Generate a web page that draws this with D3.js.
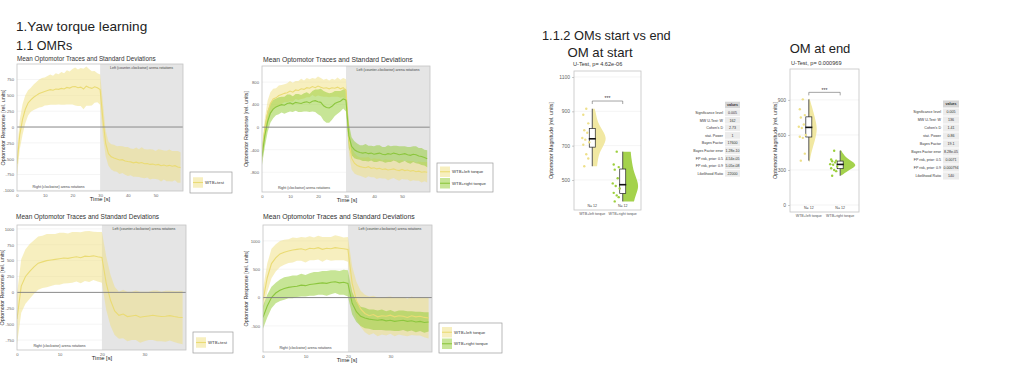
<!DOCTYPE html>
<html>
<head>
<meta charset="utf-8">
<script src="https://d3js.org/d3.v7.min.js"></script>
<style>
body{margin:0;background:#fff;}
svg{display:block;font-family:"Liberation Sans",Arial,sans-serif;}
</style>
</head>
<body>
<svg id="page" width="1024" height="370"></svg>
<script>
// ---- data: mean traces (one value per second) and standard deviations ----
var omr1Mean = [-580,-120,120,280,380,430,470,500,530,545,
    560,575,590,580,600,595,610,600,625,615,
    635,640,620,630,600,645,625,610,635,620,
    590,120,-260,-420,-470,-490,-505,-520,-515,-535,
    -545,-550,-565,-555,-570,-560,-580,-575,-590,-585,
    -600,-590,-610,-600,-615,-605,-620,-610,-630,-640];
var omr1Sd = [200,230,240,220,200,190,200,210,220,230,
    220,230,240,230,250,240,260,250,270,260,
    280,300,290,300,320,310,290,270,250,230,
    240,260,200,190,200,210,200,220,210,220,
    230,210,220,230,220,240,230,220,240,230,
    220,240,250,230,240,250,240,230,250,240];

var omr2LeftMean = [-480,-50,250,420,500,520,560,580,600,610,
    640,620,660,650,680,670,700,690,720,700,
    730,710,690,700,680,700,690,710,680,700,
    650,-200,-550,-640,-680,-700,-710,-720,-700,-730,
    -720,-740,-730,-750,-740,-760,-750,-740,-760,-770,
    -750,-770,-760,-780,-770,-790,-780,-800,-790,-800];
var omr2LeftSd = [150,200,220,200,180,170,180,170,160,170,
    180,170,160,170,180,160,170,160,150,160,
    170,160,150,160,150,160,150,170,160,170,
    200,250,200,180,170,160,170,180,170,160,
    170,180,170,160,170,180,170,160,170,180,
    170,160,170,180,170,160,170,180,170,180];
var omr2RightMean = [-520,-150,100,250,320,360,380,400,390,420,
    430,410,440,430,420,440,450,430,460,470,
    450,440,380,350,340,370,420,440,460,500,
    480,-150,-340,-400,-430,-450,-460,-450,-470,-460,
    -480,-470,-460,-480,-490,-470,-480,-460,-470,-490,
    -480,-470,-490,-500,-480,-490,-510,-520,-540,-560];
var omr2RightSd = [150,200,190,170,160,150,150,140,150,160,
    150,140,150,160,150,160,170,160,180,200,
    220,240,260,270,260,240,220,200,180,170,
    200,220,160,150,140,130,140,150,140,130,
    140,150,140,130,140,150,140,130,140,150,
    140,130,140,150,140,150,140,150,140,150];

var omr3Mean = [-420,100,250,330,400,460,480,500,510,520,
    530,540,535,550,560,545,570,565,575,560,
    550,150,-120,-290,-360,-340,-380,-370,-360,-390,
    -380,-370,-360,-370,-380,-375,-365,-380,-390,-395];
var omr3Sd = [400,420,430,430,420,420,410,420,410,400,
    410,400,390,400,390,400,390,400,380,390,
    400,420,400,380,370,380,390,380,390,400,
    390,380,390,400,390,400,390,400,410,420];

var omr4LeftMean = [-50,350,600,700,770,800,820,840,850,860,
    840,870,860,880,850,870,860,880,870,860,
    850,250,-50,-200,-280,-320,-300,-340,-320,-330,
    -310,-340,-320,-330,-350,-320,-340,-330,-350,-360];
var omr4LeftSd = [200,250,260,240,230,220,210,220,200,210,
    220,210,200,210,220,200,210,220,210,200,
    220,300,330,320,330,340,330,340,330,340,
    330,340,330,340,330,340,330,340,350,360];
var omr4RightMean = [-350,-150,0,80,130,160,180,190,200,220,
    210,230,240,250,260,250,270,280,260,270,
    250,-100,-250,-330,-360,-380,-390,-400,-390,-410,
    -400,-420,-410,-400,-420,-410,-430,-420,-440,-430];
var omr4RightSd = [200,200,190,180,190,200,190,200,190,200,
    190,200,210,200,210,220,210,200,210,220,
    230,200,180,170,180,170,180,170,180,170,
    180,170,180,170,180,170,180,170,180,170];

// tick labels
var yTicks1 = [750,500,250,0,-250,-500,-750,-1000];
var yTicks2 = [800,400,0,-400,-800];
var yTicks3 = [1000,750,500,250,0,-250,-500,-750];
var yTicks4 = [1000,500,0,-500];
var xTicks60 = [0,10,20,30,40,50];
var xTicks40 = [0,10,20,30];

// ---- data: optomotor magnitudes per fly (N = 12 each) ----
var groupNames = ["WTB+left torque","WTB+right torque"];
var startLeft = [915,880,830,790,775,745,735,720,705,650,625,580];
var startRight = [665,590,575,560,510,480,465,450,425,410,400,375];
var endLeft = [905,820,770,750,690,670,660,600,585,575,440,380];
var endRight = [465,390,380,375,365,350,345,330,315,300,290,250];

// violin outlines: [value, relative width]
var startLeftViolin = [[580,0.3],[620,0.35],[660,0.45],[700,0.7],[740,0.9],[780,0.72],[820,0.42],[860,0.28],[900,0.2],[915,0.15]];
var startRightViolin = [[375,0.7],[420,0.85],[460,1.0],[500,0.9],[540,0.72],[580,0.62],[620,0.55],[665,0.5]];
var endLeftViolin = [[370,0.05],[450,0.15],[550,0.38],[650,0.55],[750,0.38],[850,0.18],[910,0.05]];
var endRightViolin = [[255,0.1],[290,0.45],[320,0.85],[340,1.0],[370,0.8],[400,0.4],[440,0.18],[470,0.05]];

var yTicksStart = [500,700,900,1100];
var yTicksEnd = [0,300,600,900];

// ---- data: statistics tables ----
var statLabels = ["Significance level","MW U-Test: W","Cohen's D","stat. Power","Bayes Factor",
    "Bayes Factor error","FP risk, prior: 0.5","FP risk, prior: 0.9","Likelihood Ratio"];
var startStats = ["0.005","162","2.73","1","17600","1.28e-10","4.54e-05","5.05e-08","22000"];
var endStats = ["0.005","136","1.41","0.86","19.1","8.28e-05","0.0071","0.000794","140"];

var yellowFill = "#efe080", yellowLine = "#eadb74";
var greenFill = "#8fcc2e", greenLine = "#8cc63e";

var svg = d3.select("#page");

// headings
var heading = function(txt, x, y, size, anchor)
{
    svg.append("text").text(txt)
        .attr("x", x).attr("y", y)
        .attr("font-size", size)
        .attr("fill", "#222")
        .attr("text-anchor", anchor || "start");
}
heading("1.Yaw torque learning", 16, 31, 13.6);
heading("1.1 OMRs", 16, 50, 12.5);
heading("1.1.2 OMs start vs end", 542, 40, 12.8);
heading("OM at start", 600, 57, 13.2, "middle");
heading("OM at end", 820, 53, 13, "middle");

var plainFormat = function(d) { return String(d); };

//draws one panel of mean traces with SD bands
var drawTraceChart = function(cfg)
{
    var p = cfg.panel;
    var xScale = d3.scaleLinear().domain([0, cfg.xMax]).range([p.x, p.x + p.w]);
    var yScale = d3.scaleLinear().domain(cfg.yDomain).range([p.y + p.h, p.y]);
    var g = svg.append("g");

    g.append("clipPath").attr("id", "clip" + cfg.id)
        .append("rect").attr("x", p.x).attr("y", p.y).attr("width", p.w).attr("height", p.h);

    g.append("text").text("Mean Optomotor Traces and Standard Deviations")
        .attr("x", cfg.titleX).attr("y", cfg.titleY)
        .attr("font-size", cfg.titleSize).attr("fill", "#333");

    g.append("rect").attr("x", p.x).attr("y", p.y).attr("width", p.w).attr("height", p.h)
        .attr("fill", "#fff");
    g.selectAll(".grid").data(cfg.yTicks).enter().append("line")
        .attr("x1", p.x).attr("x2", p.x + p.w)
        .attr("y1", function(d) { return yScale(d); })
        .attr("y2", function(d) { return yScale(d); })
        .attr("stroke", "#efefef").attr("stroke-width", 0.6);
    g.append("rect")
        .attr("x", xScale(cfg.switchAt)).attr("y", p.y)
        .attr("width", p.x + p.w - xScale(cfg.switchAt)).attr("height", p.h)
        .attr("fill", "#e5e5e5");

    var plot = g.append("g").attr("clip-path", "url(#clip" + cfg.id + ")");
    cfg.series.forEach(function(s)
    {
        var area = d3.area()
            .x(function(d, i) { return xScale(i); })
            .y0(function(d, i) { return yScale(d - s.sd[i]); })
            .y1(function(d, i) { return yScale(d + s.sd[i]); });
        plot.append("path").datum(s.mean).attr("d", area)
            .attr("fill", s.fill).attr("fill-opacity", 0.5);
    });
    cfg.series.forEach(function(s)
    {
        var line = d3.line()
            .x(function(d, i) { return xScale(i); })
            .y(function(d) { return yScale(d); });
        plot.append("path").datum(s.mean).attr("d", line)
            .attr("fill", "none").attr("stroke", s.line).attr("stroke-width", 1.1);
    });
    g.append("line")
        .attr("x1", p.x).attr("x2", p.x + p.w)
        .attr("y1", yScale(0)).attr("y2", yScale(0))
        .attr("stroke", "#808080").attr("stroke-width", 0.9);
    g.append("rect").attr("x", p.x).attr("y", p.y).attr("width", p.w).attr("height", p.h)
        .attr("fill", "none").attr("stroke", "#c4c4c4").attr("stroke-width", 0.8);

    g.append("text").text("Left (counter-clockwise) arena rotations")
        .attr("x", (xScale(cfg.switchAt) + p.x + p.w) / 2).attr("y", p.y + 5)
        .attr("font-size", 3.6).attr("fill", "#444").attr("text-anchor", "middle");
    g.append("text").text("Right (clockwise) arena rotations")
        .attr("x", (p.x + xScale(cfg.switchAt)) / 2).attr("y", p.y + p.h - 3.5)
        .attr("font-size", 3.6).attr("fill", "#444").attr("text-anchor", "middle");

    var yAxis = d3.axisLeft(yScale).tickValues(cfg.yTicks).tickFormat(plainFormat).tickSize(0).tickPadding(3);
    var ya = g.append("g").attr("transform", "translate(" + p.x + ",0)").call(yAxis);
    var xAxis = d3.axisBottom(xScale).tickValues(cfg.xTicks).tickFormat(plainFormat).tickSize(0).tickPadding(3);
    var xa = g.append("g").attr("transform", "translate(0," + (p.y + p.h) + ")").call(xAxis);
    [ya, xa].forEach(function(a)
    {
        a.select(".domain").remove();
        a.selectAll("text").attr("font-size", 4.2).attr("fill", "#666")
            .attr("font-family", "Liberation Sans, Arial, sans-serif");
    });

    g.append("text").text("Time [s]")
        .attr("x", cfg.timeX).attr("y", p.y + p.h + 10)
        .attr("font-size", 5.8).attr("fill", "#222").attr("text-anchor", "middle");
    g.append("text").text("Optomotor Response [rel. units]")
        .attr("transform", "translate(" + cfg.yLabelX + "," + (p.y + p.h / 2) + ") rotate(-90)")
        .attr("font-size", 5.4).attr("fill", "#333").attr("text-anchor", "middle");

    // legend
    var L = cfg.legend;
    var lg = g.append("g");
    lg.append("rect").attr("x", L.x).attr("y", L.y).attr("width", L.w).attr("height", L.h)
        .attr("fill", "#fff").attr("stroke", "#9a9a9a").attr("stroke-width", 0.7);
    var n = cfg.series.length;
    var top = L.y + (L.h - n * 11.5) / 2;
    cfg.series.forEach(function(s, i)
    {
        var ky = top + i * 11.5;
        lg.append("rect").attr("x", L.x + 3).attr("y", ky + 0.5).attr("width", 10).attr("height", 10.5)
            .attr("fill", s.fill).attr("fill-opacity", 0.5);
        lg.append("line").attr("x1", L.x + 3).attr("x2", L.x + 13)
            .attr("y1", ky + 5.75).attr("y2", ky + 5.75)
            .attr("stroke", s.line).attr("stroke-width", 1.1);
        lg.append("text").text(s.name)
            .attr("x", L.x + 15).attr("y", ky + 7.3)
            .attr("font-size", 4.3).attr("fill", "#333");
    });
}

drawTraceChart({id:1, titleX:17, titleY:61, titleSize:6.3,
    panel:{x:17, y:64, w:166, h:127}, xMax:59.9, switchAt:30,
    yDomain:[-1010, 995], yTicks:yTicks1, xTicks:xTicks60, timeX:100, yLabelX:5,
    legend:{x:190, y:172, w:42, h:21},
    series:[{name:"WTB+test", mean:omr1Mean, sd:omr1Sd, fill:yellowFill, line:yellowLine}]});

drawTraceChart({id:2, titleX:263, titleY:62, titleSize:6.8,
    panel:{x:262, y:66, w:168, h:126}, xMax:60, switchAt:30,
    yDomain:[-1150, 1085], yTicks:yTicks2, xTicks:xTicks60, timeX:347, yLabelX:248,
    legend:{x:437, y:163, w:56, h:29},
    series:[{name:"WTB+left torque", mean:omr2LeftMean, sd:omr2LeftSd, fill:yellowFill, line:yellowLine},
            {name:"WTB+right torque", mean:omr2RightMean, sd:omr2RightSd, fill:greenFill, line:greenLine}]});

drawTraceChart({id:3, titleX:16, titleY:219, titleSize:6.5,
    panel:{x:17, y:225, w:169, h:125}, xMax:39.8, switchAt:20,
    yDomain:[-906, 1060], yTicks:yTicks3, xTicks:xTicks40, timeX:102, yLabelX:4,
    legend:{x:193, y:332, w:40, h:21},
    series:[{name:"WTB+test", mean:omr3Mean, sd:omr3Sd, fill:yellowFill, line:yellowLine}]});

drawTraceChart({id:4, titleX:263, titleY:219, titleSize:6.9,
    panel:{x:263, y:225, w:169, h:127}, xMax:39.8, switchAt:20,
    yDomain:[-960, 1280], yTicks:yTicks4, xTicks:xTicks40, timeX:347, yLabelX:248,
    legend:{x:439, y:323, w:63, h:30},
    series:[{name:"WTB+left torque", mean:omr4LeftMean, sd:omr4LeftSd, fill:yellowFill, line:yellowLine},
            {name:"WTB+right torque", mean:omr4RightMean, sd:omr4RightSd, fill:greenFill, line:greenLine}]});

// jitter pattern for the raw points (px left of the box)
var jitter = [6, 9, 4, 8, 5, 10, 7, 3, 9, 6, 4, 8];

//raincloud: half violins, boxes, raw points
var drawViolinChart = function(cfg)
{
    var p = cfg.panel;
    var g = svg.append("g");
    var yScale = d3.scaleLinear().domain(cfg.yDomain).range([p.y + p.h, p.y]);
    var xScale = d3.scalePoint().domain(groupNames).range([p.x, p.x + p.w]).padding(0.6);
    var wScale = d3.scaleLinear().domain([0, 1]).range([0, 16]);

    g.append("text").text(cfg.sub)
        .attr("x", cfg.subX).attr("y", cfg.subY)
        .attr("font-size", 5.6).attr("fill", "#333");

    g.append("rect").attr("x", p.x).attr("y", p.y).attr("width", p.w).attr("height", p.h)
        .attr("fill", "#fff");
    g.selectAll(".grid").data(cfg.yTicks).enter().append("line")
        .attr("x1", p.x).attr("x2", p.x + p.w)
        .attr("y1", function(d) { return yScale(d); })
        .attr("y2", function(d) { return yScale(d); })
        .attr("stroke", "#ececec").attr("stroke-width", 0.6);

    cfg.groups.forEach(function(gr)
    {
        var cx = xScale(gr.name);
        var area = d3.area().curve(d3.curveBasis)
            .y(function(d) { return yScale(d[0]); })
            .x0(cx)
            .x1(function(d) { return cx + wScale(d[1]); });
        g.append("path").datum(gr.violin).attr("d", area).attr("fill", gr.fill);

        var sorted = gr.points.slice().sort(d3.ascending);
        var q1 = d3.quantile(sorted, 0.25), med = d3.quantile(sorted, 0.5), q3 = d3.quantile(sorted, 0.75);
        g.append("line").attr("x1", cx).attr("x2", cx)
            .attr("y1", yScale(d3.min(sorted))).attr("y2", yScale(d3.max(sorted)))
            .attr("stroke", "#555").attr("stroke-width", 1);
        g.append("rect").attr("x", cx - 3).attr("y", yScale(q3))
            .attr("width", 6).attr("height", yScale(q1) - yScale(q3))
            .attr("fill", "#fff").attr("stroke", "#222").attr("stroke-width", 0.7);
        g.append("line").attr("x1", cx - 3.5).attr("x2", cx + 3.5)
            .attr("y1", yScale(med)).attr("y2", yScale(med))
            .attr("stroke", "#111").attr("stroke-width", 1.6);

        g.selectAll(null).data(gr.points).enter().append("circle")
            .attr("cx", function(d, i) { return cx - jitter[i]; })
            .attr("cy", function(d) { return yScale(d); })
            .attr("r", 1.2).attr("fill", gr.dot);

        g.append("text").text("N= " + gr.points.length)
            .attr("x", cx).attr("y", p.y + p.h - 3)
            .attr("font-size", 3.6).attr("fill", "#444").attr("text-anchor", "middle");
        g.append("text").text(gr.name)
            .attr("x", cx).attr("y", p.y + p.h + 5)
            .attr("font-size", 3.6).attr("fill", "#555").attr("text-anchor", "middle");
    });

    // significance bracket
    var x1 = xScale(groupNames[0]), x2 = xScale(groupNames[1]), by = yScale(cfg.bracket);
    g.append("path")
        .attr("d", "M" + x1 + "," + (by + 3) + "V" + by + "H" + x2 + "V" + (by + 3))
        .attr("fill", "none").attr("stroke", "#666").attr("stroke-width", 0.6);
    g.append("text").text("***")
        .attr("x", (x1 + x2) / 2).attr("y", by - 0.8)
        .attr("font-size", 5).attr("fill", "#333").attr("text-anchor", "middle");

    g.append("rect").attr("x", p.x).attr("y", p.y).attr("width", p.w).attr("height", p.h)
        .attr("fill", "none").attr("stroke", "#c4c4c4").attr("stroke-width", 0.8);

    var yAxis = d3.axisLeft(yScale).tickValues(cfg.yTicks).tickFormat(plainFormat).tickSize(2).tickPadding(2);
    var ya = g.append("g").attr("transform", "translate(" + p.x + ",0)").call(yAxis);
    ya.select(".domain").remove();
    ya.selectAll("line").attr("stroke", "#999").attr("stroke-width", 0.5);
    ya.selectAll("text").attr("font-size", 5).attr("fill", "#666")
        .attr("font-family", "Liberation Sans, Arial, sans-serif");

    g.append("text").text("Optomotor Magnitude [rel. units]")
        .attr("transform", "translate(" + cfg.yLabelX + "," + (p.y + p.h / 2) + ") rotate(-90)")
        .attr("font-size", 5.4).attr("fill", "#333").attr("text-anchor", "middle");

    // stats table
    var T = cfg.table;
    var tg = g.append("g");
    tg.append("rect").attr("x", T.x).attr("y", T.y - T.step / 2 + 0.5)
        .attr("width", T.w).attr("height", T.step - 1).attr("fill", "#d6d6d6");
    tg.append("text").text("values")
        .attr("x", T.x + T.w / 2).attr("y", T.y + 1.3)
        .attr("font-size", 3.6).attr("font-weight", "bold").attr("fill", "#333").attr("text-anchor", "middle");
    statLabels.forEach(function(lab, i)
    {
        var ry = T.y + (i + 1) * T.step;
        tg.append("rect").attr("x", T.x).attr("y", ry - T.step / 2 + 0.5)
            .attr("width", T.w).attr("height", T.step - 1).attr("fill", "#ececec");
        tg.append("text").text(cfg.stats[i])
            .attr("x", T.x + T.w / 2).attr("y", ry + 1.3)
            .attr("font-size", 3.6).attr("fill", "#333").attr("text-anchor", "middle");
        tg.append("text").text(lab)
            .attr("x", T.x - 2).attr("y", ry + 1.3)
            .attr("font-size", 3.6).attr("fill", "#333").attr("text-anchor", "end");
    });
}

drawViolinChart({sub:"U-Test, p= 4.62e-06", subX:573, subY:66,
    panel:{x:574, y:71, w:67, h:139}, yDomain:[325, 1135], yTicks:yTicksStart,
    bracket:960, yLabelX:553,
    groups:[{name:groupNames[0], points:startLeft, violin:startLeftViolin, fill:"#f1e8a2", dot:"#eee08a"},
            {name:groupNames[1], points:startRight, violin:startRightViolin, fill:"#a4d24c", dot:"#9ccf3c"}],
    stats:startStats, table:{x:725, y:105, w:15, step:7.6}});

drawViolinChart({sub:"U-Test, p= 0.000969", subX:791, subY:65,
    panel:{x:790, y:69, w:69, h:143}, yDomain:[-60, 1165], yTicks:yTicksEnd,
    bracket:965, yLabelX:777,
    groups:[{name:groupNames[0], points:endLeft, violin:endLeftViolin, fill:"#f1e8a2", dot:"#eee08a"},
            {name:groupNames[1], points:endRight, violin:endRightViolin, fill:"#a4d24c", dot:"#9ccf3c"}],
    stats:endStats, table:{x:943, y:104, w:16, step:8}});
</script>
</body>
</html>
